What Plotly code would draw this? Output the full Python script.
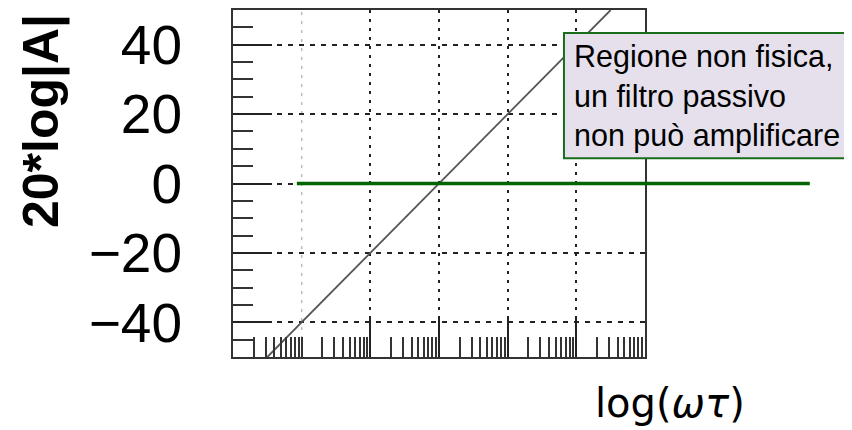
import math
import plotly.graph_objects as go

# ---- data ----
log_wt = [-2.5, 2.5]          # log10(omega*tau) endpoints of the asymptote
gain_db = [-50, 50]           # 20*log|A| at those endpoints
x_major = [-1, 0, 1, 2]
x_faint = [-2]
y_major = [-40, -20, 0, 20, 40]
y_tick_text = ["\u221240", "\u221220", "0", "20", "40"]
y_minor = [-45, -35, -30, -25, -15, -10, -5, 5, 10, 15, 25, 30, 35, 45]
decades = [-3, -2, -1, 0, 1, 2]
minor_digits = [2, 3, 4, 5, 6, 7, 8, 9]
zero_line_x = [-2.07, 5.4]
zero_line_y = 0
box_x = [1.82, 6.5]
box_y = [7.3, 43.4]
box_text = "Regione non fisica,<br>un filtro passivo<br>non può amplificare"

XR = [-3, 3]
YR = [-50, 50]

def px(v):
    return (v - XR[0]) / (XR[1] - XR[0])

def py(v):
    return (v - YR[0]) / (YR[1] - YR[0])

x_minor = [d + math.log10(k) for d in decades for k in minor_digits] + x_faint

fig = go.Figure()
fig.add_trace(go.Scatter(x=log_wt, y=gain_db, mode="lines",
                         line=dict(color="#555555", width=1.8),
                         hoverinfo="skip", showlegend=False))

# page body has an 8px default margin, so the figure is 8px smaller on each axis
fig.update_layout(
    width=844, height=422,
    margin=dict(l=225, r=207, t=2, b=73, autoexpand=False),
    paper_bgcolor="white", plot_bgcolor="white",
    showlegend=False,
    xaxis=dict(range=XR, showline=True, linecolor="#333", linewidth=2, mirror=True,
               automargin=False,
               tickmode="array", tickvals=x_major, showticklabels=False,
               ticks="inside", ticklen=40, tickwidth=2, tickcolor="#222",
               showgrid=True, gridcolor="#222", gridwidth=1.5, griddash="3px,6px",
               zeroline=False,
               minor=dict(tickmode="array", tickvals=x_minor, ticks="inside",
                          ticklen=20, tickwidth=1.5, tickcolor="#333", showgrid=False)),
    yaxis=dict(range=YR, showline=True, linecolor="#333", linewidth=2, mirror=True,
               automargin=False,
               tickmode="array", tickvals=y_major, ticktext=y_tick_text,
               tickfont=dict(family="Liberation Sans", size=55, color="black"),
               ticks="inside", ticklen=39, tickwidth=2, tickcolor="#222",
               ticklabelstandoff=38,
               showgrid=True, gridcolor="#222", gridwidth=1.5, griddash="5px,6px",
               zeroline=False,
               minor=dict(tickmode="array", tickvals=y_minor, ticks="inside",
                          ticklen=20, tickwidth=1.5, tickcolor="#333", showgrid=False)),
)

shapes = []
for xv in x_faint:
    shapes.append(dict(type="line", xref="x", yref="paper", x0=xv, x1=xv, y0=0, y1=1,
                       line=dict(color="#bbbbbb", width=1.5, dash="3px,6px"), layer="below"))
shapes.append(dict(type="line", xref="paper", yref="paper",
                   x0=px(zero_line_x[0]), x1=px(zero_line_x[1]),
                   y0=py(zero_line_y), y1=py(zero_line_y),
                   line=dict(color="#006400", width=3.5)))
shapes.append(dict(type="rect", xref="paper", yref="paper",
                   x0=px(box_x[0]), x1=px(box_x[1]), y0=py(box_y[0]), y1=py(box_y[1]),
                   fillcolor="#E6E0EC", line=dict(color="#1a6e1a", width=2)))
fig.update_layout(shapes=shapes)

fig.add_annotation(xref="paper", yref="paper", x=px(1.94), y=py(25.2),
                   xanchor="left", yanchor="middle", align="left", showarrow=False,
                   text=box_text, font=dict(family="Liberation Sans", size=30.5, color="black"))
fig.add_annotation(xref="paper", yref="paper", x=-0.466, y=0.68, textangle=-90,
                   xanchor="center", yanchor="middle", showarrow=False,
                   text="<b>20*log|A|</b>",
                   font=dict(family="Liberation Sans", size=50, color="black"))
fig.add_annotation(xref="paper", yref="paper", x=1.061, y=-0.133,
                   xanchor="center", yanchor="middle", showarrow=False,
                   text="log(<i>ωτ</i>)",
                   font=dict(family="DejaVu Sans", size=40, color="black"))

fig.write_html("out.html")
